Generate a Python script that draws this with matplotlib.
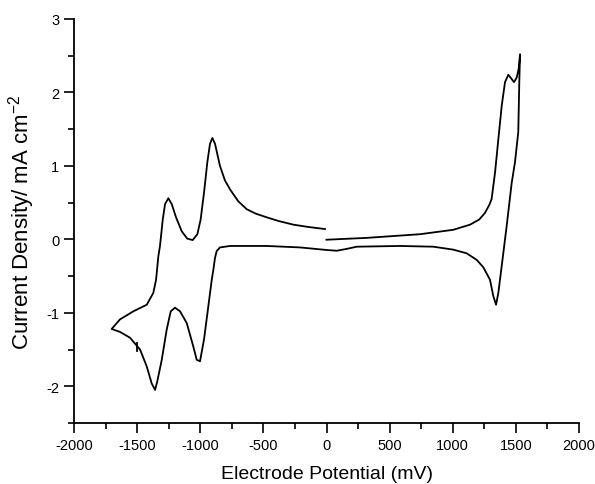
import matplotlib
matplotlib.use("Agg")
import matplotlib.pyplot as plt
from matplotlib.ticker import MultipleLocator

plt.rcParams['font.family'] = ['Liberation Sans', 'DejaVu Sans']
plt.rcParams['mathtext.default'] = 'regular'
plt.rcParams['axes.unicode_minus'] = False

# cyclic voltammogram (mV, mA cm^-2), scan starts at 0 mV
potential = [0, 318, 741, 1004, 1137, 1210, 1255, 1290, 1308, 1335, 1361, 1388,
             1414, 1440, 1459, 1485, 1506, 1522, 1533,
             1527, 1519, 1493, 1467, 1427, 1388, 1361, 1343, 1321, 1295, 1242,
             1190, 1110, 1004, 846, 582, 239, 160, 81, 2, -210, -474, -764,
             -844, -870, -883, -896, -909, -936, -970, -1002, -1028, -1055,
             -1107, -1160, -1200, -1234, -1266, -1305, -1340, -1358, -1385,
             -1424, -1477, -1556, -1636, -1702,
             -1636, -1530, -1424, -1372, -1350, -1332, -1319, -1297, -1279,
             -1253, -1226, -1192, -1147, -1103, -1060, -1023, -997, -970, -944,
             -923, -904, -883, -844, -804, -764, -700, -632, -560, -474, -380,
             -263, -150, -12]
current = [-0.005, 0.02, 0.07, 0.13, 0.20, 0.27, 0.36, 0.47, 0.55, 0.91, 1.36, 1.82,
           2.14, 2.24, 2.2, 2.14, 2.2, 2.32, 2.52,
           2.14, 1.46, 1.05, 0.77, 0.18, -0.36, -0.73, -0.89, -0.77, -0.55, -0.38,
           -0.28, -0.19, -0.14, -0.10, -0.09, -0.10, -0.13, -0.155, -0.145, -0.11,
           -0.09, -0.09,
           -0.11, -0.16, -0.25, -0.41, -0.55, -0.91, -1.36, -1.66, -1.64, -1.46,
           -1.14, -0.98, -0.93, -0.98, -1.23, -1.64, -1.93, -2.05, -1.96,
           -1.73, -1.50, -1.34, -1.26, -1.22,
           -1.09, -0.98, -0.89, -0.73, -0.55, -0.23, -0.09, 0.27, 0.48,
           0.56, 0.48, 0.30, 0.11, 0.01, -0.01, 0.07, 0.27, 0.64, 1.05,
           1.30, 1.38, 1.30, 1.0, 0.80, 0.68, 0.52, 0.41, 0.35, 0.30, 0.25,
           0.20, 0.17, 0.14]

# small vertical mark on the cathodic branch
mark_potential = [-1503, -1503]
mark_current = [-1.41, -1.52]

fig = plt.figure(figsize=(5.95, 4.85), dpi=100)
ax = fig.add_axes([0.1244, 0.1258, 0.8487, 0.833])

ax.plot(potential, current, color='black', lw=1.3, solid_joinstyle='round')
ax.plot(mark_potential, mark_current, color='black', lw=1.3)

ax.set_xlim(-2000, 2000)
ax.set_ylim(-2.5, 3)
ax.xaxis.set_major_locator(MultipleLocator(500))
ax.xaxis.set_minor_locator(MultipleLocator(250))
ax.yaxis.set_major_locator(MultipleLocator(1))
ax.yaxis.set_minor_locator(MultipleLocator(0.5))

for s in ['top', 'right']:
    ax.spines[s].set_visible(False)
for s in ['left', 'bottom']:
    ax.spines[s].set_linewidth(1.3)
ax.tick_params(which='major', length=7, width=1.2, labelsize=10.5)
ax.tick_params(which='minor', length=4, width=1.2)

ax.set_xlabel('Electrode Potential (mV)', fontsize=14, labelpad=10)
ax.set_ylabel('Current Density/ mA cm$^{-2}$', fontsize=16, labelpad=7)

fig.savefig('out.png', dpi=100)
